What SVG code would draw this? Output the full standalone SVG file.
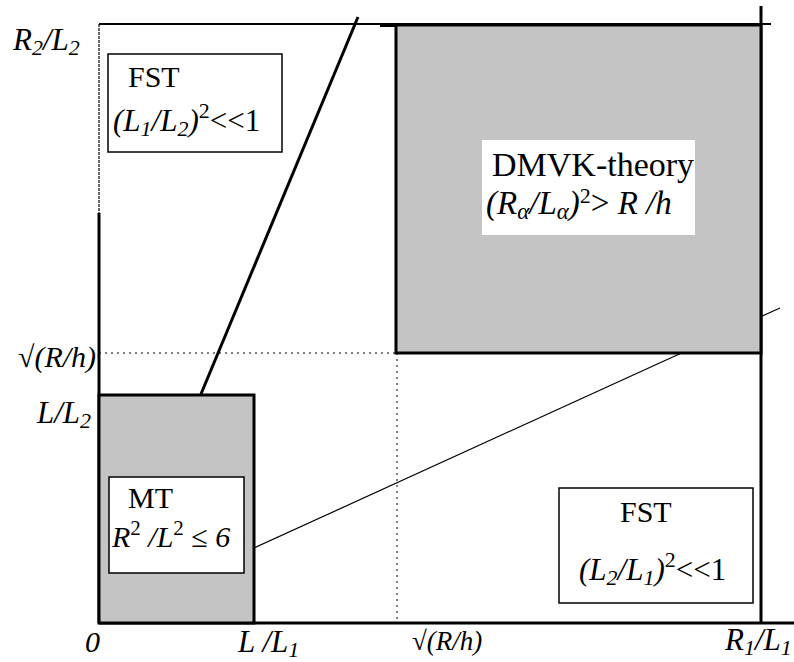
<svg xmlns="http://www.w3.org/2000/svg" width="794" height="662" viewBox="0 0 794 662">
<style>
.t{font-family:"Liberation Serif","Times New Roman",serif;fill:#000}
.i{font-style:italic}
.shade{fill:#c4c4c4;stroke:#000;stroke-width:3}
.lbl{fill:#fff;stroke:#000;stroke-width:1.5}
.thick{stroke:#000;stroke-width:3;fill:none}
.thin{stroke:#000;stroke-width:1.2;fill:none}
.dot{stroke:#000;stroke-width:1;stroke-dasharray:2 4;fill:none}
</style>
<rect width="794" height="662" fill="#fff"/>
<g id="connectors">
  <line class="thin" x1="99" y1="24" x2="99" y2="213" stroke-dasharray="3 1"/>
  <line class="thick" x1="99" y1="213" x2="99" y2="623"/>
  <line x1="99" y1="24" x2="395" y2="24" stroke="#000" stroke-width="2"/>
  <line x1="380" y1="25" x2="762" y2="25" stroke="#000" stroke-width="4"/>
  <line x1="762" y1="24" x2="771" y2="24" stroke="#000" stroke-width="2"/>
  <line class="thick" x1="761" y1="6" x2="761" y2="623"/>
  <line class="thick" x1="99" y1="623" x2="794" y2="623"/>
  <line class="dot" x1="99" y1="353" x2="396" y2="353"/>
  <line class="dot" x1="397" y1="353" x2="397" y2="623"/>
  <line class="thin" x1="254" y1="548" x2="780" y2="308"/>
  <line x1="201" y1="394" x2="358" y2="17" stroke="#000" stroke-width="3"/>
</g>
<g id="dmvk">
  <rect class="shade" x="396" y="25" width="365" height="328"/>
  <rect x="482" y="140" width="213" height="95" fill="#fff"/>
  <text class="t" x="492" y="176" font-size="34">DMVK-theory</text>
  <text class="t i" x="486" y="214" font-size="33">(R<tspan font-size="23" dy="5">α</tspan><tspan dy="-5">/L</tspan><tspan font-size="23" dy="5">α</tspan><tspan dy="-5">)</tspan><tspan font-size="22" dy="-11" font-style="normal">2</tspan><tspan dy="11" font-style="normal">&gt;</tspan> R /h</text>
</g>
<g id="mt">
  <rect class="shade" x="99" y="395" width="155" height="228"/>
  <rect class="lbl" x="109" y="477" width="135" height="96"/>
  <text class="t" x="128" y="508" font-size="30">MT</text>
  <text class="t i" x="112" y="547" font-size="30">R<tspan font-size="21" dy="-12" font-style="normal">2</tspan><tspan dy="12"> /L</tspan><tspan font-size="21" dy="-12" font-style="normal">2</tspan><tspan dy="12"> ≤ 6</tspan></text>
</g>
<g id="fst-upper">
  <rect class="lbl" x="108" y="54" width="174" height="98" stroke-width="2"/>
  <text class="t" x="128" y="87" font-size="30">FST</text>
  <text class="t i" x="113" y="131" font-size="31">(L<tspan font-size="22" dy="5">1</tspan><tspan dy="-5">/L</tspan><tspan font-size="22" dy="5">2</tspan><tspan dy="-5">)</tspan><tspan font-size="22" dy="-13" font-style="normal">2</tspan><tspan dy="13" font-style="normal">&lt;&lt;1</tspan></text>
</g>
<g id="fst-lower">
  <rect class="lbl" x="559" y="488" width="194" height="115" stroke-width="2"/>
  <text class="t" x="620" y="522" font-size="30">FST</text>
  <text class="t i" x="579" y="580" font-size="31">(L<tspan font-size="22" dy="5">2</tspan><tspan dy="-5">/L</tspan><tspan font-size="22" dy="5">1</tspan><tspan dy="-5">)</tspan><tspan font-size="22" dy="-13" font-style="normal">2</tspan><tspan dy="13" font-style="normal">&lt;&lt;1</tspan></text>
</g>
<g id="axis-labels">
  <text class="t i" x="13" y="50" font-size="31">R<tspan font-size="22" dy="5">2</tspan><tspan dy="-5">/L</tspan><tspan font-size="22" dy="5">2</tspan></text>
  <text class="t i" x="18" y="367" font-size="30">√(R/h)</text>
  <text class="t i" x="37" y="423" font-size="31">L/L<tspan font-size="22" dy="5">2</tspan></text>
  <text class="t i" x="85" y="652" font-size="30">0</text>
  <text class="t i" x="238" y="652" font-size="31">L /L<tspan font-size="22" dy="5">1</tspan></text>
  <text class="t i" x="412" y="650" font-size="27">√(R/h)</text>
  <text class="t i" x="725" y="650" font-size="31">R<tspan font-size="22" dy="5">1</tspan><tspan dy="-5">/L</tspan><tspan font-size="22" dy="5">1</tspan></text>
</g>
</svg>
